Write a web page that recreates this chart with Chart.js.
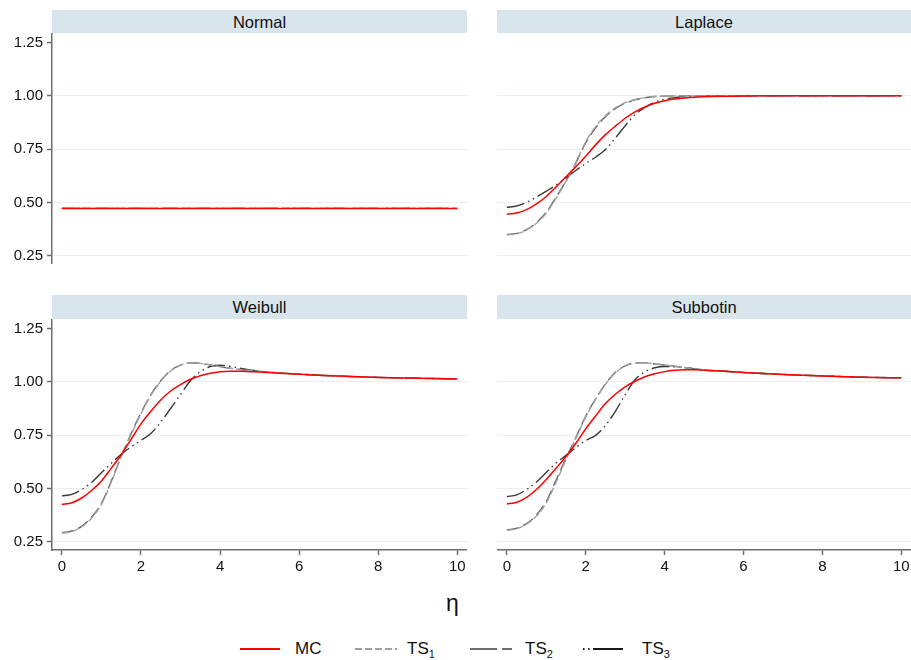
<!DOCTYPE html>
<html>
<head>
<meta charset="utf-8">
<script src="https://cdn.jsdelivr.net/npm/chart.js@4"></script>
<style>
  body { margin: 0; background: #fff; font-family: "Liberation Sans", Arial, sans-serif; }
  #wrap { position: relative; width: 911px; height: 660px; overflow: hidden; }
  canvas { position: absolute; }
  .head { position: absolute; background: #d9e5ec; color: #111; font-size: 16.5px; text-align: center; }
  #eta { position: absolute; left: 446px; top: 590px; font-size: 23px; color: #111; }
  #legend { position: absolute; top: 638px; left: 0; width: 911px; height: 22px; font-size: 17px; color: #111; }
  #legend span { position: absolute; top: 1px; }
  #legend svg { position: absolute; top: 0; }
</style>
</head>
<body>
<div id="wrap">
  <div class="head" style="left:52px;top:10px;width:415px;height:23px;line-height:24px">Normal</div>
  <div class="head" style="left:497px;top:10px;width:414px;height:23px;line-height:24px">Laplace</div>
  <div class="head" style="left:52px;top:295px;width:415px;height:24px;line-height:24px">Weibull</div>
  <div class="head" style="left:497px;top:295px;width:414px;height:24px;line-height:24px">Subbotin</div>

  <canvas id="cNormal" style="left:0;top:33px"></canvas>
  <canvas id="cLaplace" style="left:497px;top:33px"></canvas>
  <canvas id="cWeibull" style="left:0;top:319px"></canvas>
  <canvas id="cSubbotin" style="left:497px;top:319px"></canvas>

  <div id="eta">η</div>

  <div id="legend">
    <svg style="left:240px" width="40" height="22"><line x1="0" y1="11" x2="40" y2="11" stroke="red" stroke-width="2"/></svg>
    <span style="left:295px">MC</span>
    <svg style="left:355px" width="42" height="22"><line x1="0" y1="11" x2="42" y2="11" stroke="#a0a0a0" stroke-width="2" stroke-dasharray="7 3"/></svg>
    <span style="left:407px">TS<sub style="font-size:11px">1</sub></span>
    <svg style="left:470px" width="42" height="22"><line x1="0" y1="11" x2="42" y2="11" stroke="#6e6e6e" stroke-width="2" stroke-dasharray="27 5"/></svg>
    <span style="left:525px">TS<sub style="font-size:11px">2</sub></span>
    <svg style="left:583px" width="40" height="22"><line x1="0" y1="11" x2="40" y2="11" stroke="#1a1a1a" stroke-width="2" stroke-dasharray="1.5 3.5 1.5 3.5 30 0"/></svg>
    <span style="left:642px">TS<sub style="font-size:11px">3</sub></span>
  </div>
</div>

<script>
// asse eta (orizzontale)
const eta = [0, 0.25, 0.5, 0.75, 1, 1.25, 1.5, 1.75, 2, 2.25, 2.5, 2.75, 3, 3.25, 3.5, 3.75, 4, 4.25, 4.5, 4.75, 5, 5.5, 6, 6.5, 7, 8, 9, 10];
const xTicks = [0, 2, 4, 6, 8, 10];
const yTicks = [0.25, 0.5, 0.75, 1, 1.25];

// Normal: tutte le curve piatte
const normalMC  = [0.472,0.472,0.472,0.472,0.472,0.472,0.472,0.472,0.472,0.472,0.472,0.472,0.472,0.472,0.472,0.472,0.472,0.472,0.472,0.472,0.472,0.472,0.472,0.472,0.472,0.472,0.472,0.472];
const normalTS1 = [0.472,0.472,0.472,0.472,0.472,0.472,0.472,0.472,0.472,0.472,0.472,0.472,0.472,0.472,0.472,0.472,0.472,0.472,0.472,0.472,0.472,0.472,0.472,0.472,0.472,0.472,0.472,0.472];
const normalTS2 = [0.472,0.472,0.472,0.472,0.472,0.472,0.472,0.472,0.472,0.472,0.472,0.472,0.472,0.472,0.472,0.472,0.472,0.472,0.472,0.472,0.472,0.472,0.472,0.472,0.472,0.472,0.472,0.472];
const normalTS3 = [0.472,0.472,0.472,0.472,0.472,0.472,0.472,0.472,0.472,0.472,0.472,0.472,0.472,0.472,0.472,0.472,0.472,0.472,0.472,0.472,0.472,0.472,0.472,0.472,0.472,0.472,0.472,0.472];

// Laplace
const laplaceMC  = [0.445,0.450,0.466,0.493,0.528,0.573,0.620,0.668,0.717,0.770,0.818,0.858,0.895,0.925,0.948,0.965,0.977,0.985,0.990,0.994,0.996,0.998,0.999,1.000,1.000,1.000,1.000,1.000];
const laplaceTS1 = [0.348,0.353,0.370,0.402,0.450,0.520,0.600,0.688,0.785,0.856,0.907,0.944,0.968,0.983,0.992,0.997,0.999,1.000,1.000,1.000,1.000,1.000,1.000,1.000,1.000,1.000,1.000,1.000];
const laplaceTS2 = [0.350,0.355,0.372,0.405,0.455,0.525,0.600,0.685,0.780,0.850,0.902,0.940,0.965,0.981,0.991,0.997,0.999,1.000,1.000,1.000,1.000,1.000,1.000,1.000,1.000,1.000,1.000,1.000];
const laplaceTS3 = [0.477,0.483,0.500,0.525,0.553,0.582,0.615,0.650,0.683,0.712,0.748,0.802,0.860,0.912,0.946,0.970,0.984,0.992,0.997,0.999,1.000,1.000,1.000,1.000,1.000,1.000,1.000,1.000];

// Weibull
const weibullMC  = [0.425,0.433,0.455,0.490,0.535,0.595,0.658,0.730,0.803,0.862,0.915,0.957,0.987,1.012,1.029,1.040,1.047,1.050,1.050,1.048,1.046,1.041,1.036,1.031,1.027,1.021,1.017,1.014];
const weibullTS1 = [0.290,0.298,0.320,0.360,0.425,0.530,0.648,0.752,0.850,0.936,1.003,1.051,1.078,1.089,1.087,1.079,1.071,1.064,1.058,1.053,1.049,1.042,1.036,1.031,1.027,1.021,1.017,1.014];
const weibullTS2 = [0.292,0.300,0.322,0.365,0.430,0.535,0.650,0.757,0.855,0.940,1.005,1.053,1.079,1.090,1.087,1.079,1.071,1.064,1.058,1.053,1.049,1.042,1.036,1.031,1.027,1.021,1.017,1.014];
const weibullTS3 = [0.465,0.472,0.495,0.528,0.574,0.618,0.660,0.695,0.725,0.758,0.812,0.875,0.940,1.005,1.048,1.072,1.078,1.073,1.064,1.056,1.050,1.042,1.036,1.031,1.027,1.021,1.017,1.014];

// Subbotin
const subbotinMC  = [0.427,0.435,0.458,0.495,0.542,0.595,0.650,0.712,0.780,0.840,0.898,0.942,0.977,1.003,1.024,1.038,1.048,1.054,1.057,1.057,1.055,1.050,1.044,1.039,1.035,1.028,1.022,1.019];
const subbotinTS1 = [0.303,0.311,0.332,0.370,0.432,0.530,0.635,0.735,0.836,0.918,0.988,1.043,1.074,1.088,1.089,1.084,1.079,1.073,1.067,1.061,1.056,1.050,1.044,1.039,1.035,1.028,1.022,1.019];
const subbotinTS2 = [0.305,0.313,0.335,0.375,0.440,0.540,0.642,0.740,0.840,0.920,0.990,1.045,1.075,1.089,1.089,1.084,1.079,1.073,1.067,1.061,1.056,1.050,1.044,1.039,1.035,1.028,1.022,1.019];
const subbotinTS3 = [0.462,0.470,0.495,0.530,0.575,0.620,0.655,0.692,0.725,0.749,0.795,0.862,0.940,1.010,1.047,1.066,1.072,1.071,1.067,1.061,1.056,1.050,1.044,1.039,1.035,1.028,1.022,1.019];

// stili delle linee (MC per primo = disegnato sopra)
const stili = [
  { label: 'MC',  color: '#ff0000', width: 1.5, dash: [] },
  { label: 'TS1', color: '#a0a0a0', width: 1.4, dash: [7, 3] },
  { label: 'TS2', color: '#6a6a6a', width: 1.4, dash: [12, 5] },
  { label: 'TS3', color: '#3a3a3a', width: 1.4, dash: [18, 4, 1.5, 4, 1.5, 4] }
];

const gridColor = '#e8f0f2';
const axisColor = '#6e6e6e';
const fontTick = { family: '"Liberation Sans", Arial, sans-serif', size: 15 };

function pannello(id, serie, mostraY, mostraX) {
  const canvas = document.getElementById(id);
  canvas.width = mostraY ? 467 : 414;
  canvas.height = mostraX ? 260 : 231;

  const datasets = serie.map((vals, k) => ({
    label: stili[k].label,
    data: eta.map((x, i) => ({ x: x, y: vals[i] })),
    borderColor: stili[k].color,
    borderWidth: stili[k].width,
    borderDash: stili[k].dash,
    pointRadius: 0,
    fill: false,
    cubicInterpolationMode: 'monotone'
  }));

  new Chart(canvas, {
    type: 'line',
    data: { datasets: datasets },
    options: {
      responsive: false,
      animation: false,
      layout: { padding: 0 },
      plugins: { legend: { display: false }, tooltip: { enabled: false } },
      scales: {
        x: {
          type: 'linear',
          display: mostraX,
          min: -0.25,
          max: 10.245,
          afterBuildTicks: s => { s.ticks = xTicks.map(v => ({ value: v })); },
          afterFit: s => {
            s.height = mostraX ? 29 : 0;
            s.paddingLeft = 0; s.paddingRight = 0;
          },
          border: { display: true, color: axisColor, width: 1.5 },
          grid: { drawOnChartArea: false, drawTicks: true, tickLength: 5, tickColor: axisColor, tickWidth: 1.5 },
          ticks: { color: '#111', font: fontTick, padding: 3, maxRotation: 0 }
        },
        y: {
          min: 0.211,
          max: 1.295,
          afterBuildTicks: s => { s.ticks = yTicks.map(v => ({ value: v })); },
          afterFit: s => {
            s.width = mostraY ? 52 : 0;
            s.paddingTop = 0; s.paddingBottom = 0;
          },
          border: { display: mostraY, color: axisColor, width: 1.5 },
          grid: {
            color: c => (c.tick && c.tick.value === 1.25) ? 'rgba(0,0,0,0)' : gridColor,
            lineWidth: 1,
            drawTicks: mostraY,
            tickLength: 5,
            tickColor: axisColor,
            tickWidth: 1.5
          },
          ticks: {
            display: mostraY,
            color: '#111',
            font: fontTick,
            padding: 4,
            callback: v => v.toFixed(2)
          }
        }
      }
    }
  });
}

pannello('cNormal',   [normalMC, normalTS1, normalTS2, normalTS3], true, false);
pannello('cLaplace',  [laplaceMC, laplaceTS1, laplaceTS2, laplaceTS3], false, false);
pannello('cWeibull',  [weibullMC, weibullTS1, weibullTS2, weibullTS3], true, true);
pannello('cSubbotin', [subbotinMC, subbotinTS1, subbotinTS2, subbotinTS3], false, true);
</script>
</body>
</html>
